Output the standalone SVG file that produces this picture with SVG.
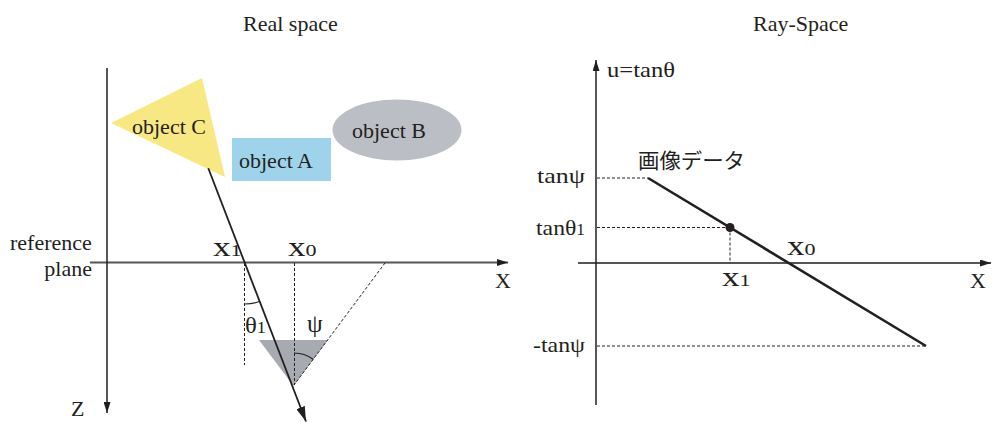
<svg xmlns="http://www.w3.org/2000/svg" width="992" height="422" viewBox="0 0 992 422">
<style>
svg{font-size:22px}
text{font-family:"Liberation Serif","Times New Roman",serif;fill:#231f20}
.jp{font-family:"Noto Sans CJK JP","Noto Sans",sans-serif}
.dash{stroke:#231f20;stroke-width:1;stroke-dasharray:3 2;fill:none}
.axis{stroke:#231f20;stroke-width:1.5;fill:none}
.gaxis{stroke:#555;stroke-width:2;fill:none}
.thin{stroke:#231f20;stroke-width:1.2;fill:none}
</style>
<defs>
<marker id="ah" markerUnits="userSpaceOnUse" markerWidth="11" markerHeight="7" refX="11" refY="3.5" orient="auto"><path d="M0,0 L11,3.5 L0,7 z" fill="#231f20"/></marker>
<marker id="ahb" markerUnits="userSpaceOnUse" markerWidth="15" markerHeight="9" refX="15" refY="4.5" orient="auto"><path d="M0,0 L15,4.5 L0,9 z" fill="#231f20"/></marker>
</defs>
<rect width="992" height="422" fill="#fff"/>

<g id="titles">
<text x="243" y="31">Real space</text>
<text x="753" y="31">Ray-Space</text>
</g>

<g id="objectC">
<polygon points="111,123 202,78 225,177" fill="#f8e883"/>
<text x="132" y="134">object C</text>
</g>
<g id="objectA">
<rect x="232" y="138" width="99" height="43" fill="#9ed3eb"/>
<text x="239" y="168">object A</text>
</g>
<g id="objectB">
<ellipse cx="397" cy="130" rx="64.5" ry="30.5" fill="#bbbec4"/>
<text x="352" y="138">object B</text>
</g>
<g id="viewpoint">
<polygon points="259,340 328,340 293.5,386" fill="#a7aab1"/>
</g>

<g id="connectors">
<line class="gaxis" x1="90" y1="262.5" x2="508" y2="262.5" marker-end="url(#ah)"/>
<line class="axis" x1="107" y1="68" x2="107" y2="413" marker-end="url(#ah)"/>
<line class="dash" x1="244.5" y1="263" x2="244.5" y2="365"/>
<line class="dash" x1="294.5" y1="263" x2="294.5" y2="385"/>
<line class="dash" x1="385" y1="263" x2="294" y2="385"/>
<line stroke="#231f20" stroke-width="1.8" x1="208.3" y1="168.3" x2="306" y2="421.5" marker-end="url(#ahb)"/>
<path class="thin" d="M245,304 A42,42 0 0 0 260.2,301.2"/>
<path class="thin" d="M294,353 A32,32 0 0 1 313.1,359.3"/>

<line class="gaxis" x1="578" y1="263" x2="991" y2="263" marker-end="url(#ah)"/>
<line class="axis" x1="596" y1="405" x2="596" y2="60" marker-end="url(#ah)"/>
<line class="dash" x1="597" y1="178" x2="648" y2="178"/>
<line class="dash" x1="597" y1="227.5" x2="730" y2="227.5"/>
<line class="dash" x1="730" y1="227.5" x2="730" y2="263"/>
<line class="dash" x1="597" y1="346" x2="926" y2="346"/>
<line stroke="#231f20" stroke-width="2.6" x1="648" y1="178" x2="926" y2="346"/>
<circle cx="730" cy="227.5" r="4.5" fill="#231f20"/>
</g>

<g id="labels-left">
<text x="10" y="250">reference</text>
<text x="92" y="276" text-anchor="end">plane</text>
<text x="71" y="416">Z</text>
<text x="495" y="288">X</text>
<text transform="translate(213,256) scale(1.3,1)" font-size="27">x<tspan font-size="17">1</tspan></text>
<text transform="translate(288,256) scale(1.3,1)" font-size="27">x<tspan font-size="17">0</tspan></text>
<text x="245" y="333" font-size="23" textLength="21" lengthAdjust="spacingAndGlyphs">θ<tspan font-size="17">1</tspan></text>
<text x="307" y="332" font-size="25">ψ</text>
</g>

<g id="labels-right">
<text x="607" y="77" font-size="21" textLength="68" lengthAdjust="spacingAndGlyphs">u=tanθ</text>
<text class="jp" x="638" y="168" font-size="21" textLength="107" lengthAdjust="spacingAndGlyphs">画像データ</text>
<text x="537" y="183" font-size="22" textLength="48" lengthAdjust="spacingAndGlyphs">tanψ</text>
<text x="536" y="235" font-size="22" textLength="49" lengthAdjust="spacingAndGlyphs">tanθ<tspan font-size="16">1</tspan></text>
<text x="533" y="352" font-size="22" textLength="52" lengthAdjust="spacingAndGlyphs">-tanψ</text>
<text transform="translate(722,286) scale(1.3,1)" font-size="27">x<tspan font-size="17">1</tspan></text>
<text transform="translate(787,255) scale(1.3,1)" font-size="27">x<tspan font-size="17">0</tspan></text>
<text x="970" y="288">X</text>
</g>
</svg>
